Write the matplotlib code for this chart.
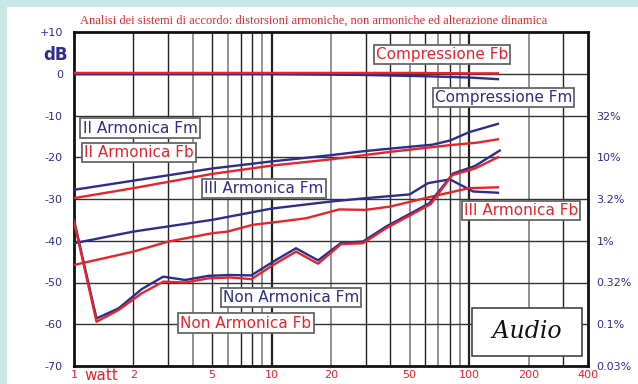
import matplotlib
matplotlib.use("Agg")
import matplotlib.pyplot as plt
from matplotlib.patches import Rectangle

RED = "#e8232b"
BLUE = "#2d2d8c"

# dynamic compression (dB) vs power (W)
comp_fb_x = [1, 10, 50, 100, 140]
comp_fb_y = [0.2, 0.2, 0.2, 0.1, 0.1]
comp_fm_x = [1, 10, 30, 60, 100, 140]
comp_fm_y = [-0.1, -0.1, -0.3, -0.6, -0.9, -1.3]

# second harmonic
h2_fm_x = [1, 2, 5, 10, 20, 30, 50, 65, 80, 100, 140]
h2_fm_y = [-27.8, -25.6, -22.7, -21.0, -19.5, -18.5, -17.5, -17.0, -16.0, -14.0, -12.0]
h2_fb_x = [1, 2, 5, 10, 20, 40, 80, 110, 140]
h2_fb_y = [-29.8, -27.4, -24.0, -22.0, -20.5, -18.7, -17.1, -16.5, -15.7]

# third harmonic
h3_fm_x = [1, 2, 5, 10, 20, 30, 50, 62, 80, 105, 140]
h3_fm_y = [-40.6, -37.8, -35.0, -32.3, -30.6, -29.8, -28.9, -26.2, -25.3, -28.2, -28.5]
h3_fb_x = [1, 2, 3, 5, 6, 8, 12, 15, 22, 30, 40, 65, 100, 140]
h3_fb_y = [-45.8, -42.6, -40.2, -38.2, -37.8, -36.2, -35.2, -34.6, -32.5, -32.6, -31.8, -29.4, -27.4, -27.2]

# non harmonic distortion
nh_fm_x = [1, 1.3, 1.68, 2.2, 2.83, 3.65, 4.8, 6.2, 7.9, 10.2, 13.3, 17.2, 22.5, 29, 38, 49, 63, 83, 107, 143]
nh_fm_y = [-35.0, -58.6, -56.2, -51.6, -48.6, -49.4, -48.4, -48.2, -48.3, -45.0, -41.8, -44.7,
           -40.5, -40.2, -36.6, -33.8, -31.0, -23.9, -22.1, -18.4]
nh_fb_x = [1, 1.3, 1.68, 2.2, 2.83, 3.65, 4.8, 6.2, 7.9, 10.2, 13.3, 17.2, 22.5, 29, 38, 49, 64, 82, 107, 140]
nh_fb_y = [-35.4, -59.4, -56.6, -52.6, -49.8, -50.0, -49.0, -48.8, -49.2, -45.8, -42.6, -45.5,
           -40.8, -40.6, -37.0, -34.2, -31.2, -24.3, -22.7, -20.0]

x_ticks = [1, 2, 5, 10, 20, 50, 100, 200, 400]
x_ticklabels = ["1", "2", "5", "10", "20", "50", "100", "200", "400"]
db_ticks = [-70, -60, -50, -40, -30, -20, -10, 0, 10]
db_ticklabels = ["-70", "-60", "-50", "-40", "-30", "-20", "-10", "0", "+10"]
pct_ticks = [-70, -60, -50, -40, -30, -20, -10]
pct_ticklabels = ["0.03%", "0.1%", "0.32%", "1%", "3.2%", "10%", "32%"]

fig = plt.figure(figsize=(6.38, 3.84), dpi=100)
fig.patch.set_facecolor("#c9e7e6")
fig.patches.append(Rectangle((7 / 638, 0), 1, 1 - 7 / 384, transform=fig.transFigure,
                             facecolor="white", edgecolor="none", zorder=-10))

ax = fig.add_axes([74 / 638, 1 - 366 / 384, 514 / 638, 334 / 384])
ax.set_xscale("log")
ax.set_xlim(1, 400)
ax.set_ylim(-70, 10)

# grid
dark = [2, 3, 5, 7, 8, 10, 30, 40, 60, 80, 100, 300]
light = [4, 6, 9, 20, 50, 70, 90, 200]
for v in dark:
    ax.axvline(v, color="#222222", lw=1.6 if v in (10, 100) else 1.0, zorder=1)
for v in light:
    ax.axvline(v, color="#888888", lw=1.3, zorder=1)
for h in range(-60, 10, 10):
    ax.axhline(h, color="#333333", lw=1.0, zorder=1)

for s in ax.spines.values():
    s.set_linewidth(2)
    s.set_color("#111111")

ax.plot(comp_fm_x, comp_fm_y, color=BLUE, lw=1.7, zorder=3)
ax.plot(comp_fb_x, comp_fb_y, color=RED, lw=1.7, zorder=3)
ax.plot(h2_fm_x, h2_fm_y, color=BLUE, lw=1.7, zorder=3)
ax.plot(h2_fb_x, h2_fb_y, color=RED, lw=1.7, zorder=3)
ax.plot(h3_fm_x, h3_fm_y, color=BLUE, lw=1.7, zorder=3)
ax.plot(h3_fb_x, h3_fb_y, color=RED, lw=1.7, zorder=3)
ax.plot(nh_fm_x, nh_fm_y, color=BLUE, lw=1.7, zorder=3)
ax.plot(nh_fb_x, nh_fb_y, color=RED, lw=1.7, zorder=3)

ax.set_xticks(x_ticks)
ax.set_xticklabels(x_ticklabels)
ax.xaxis.set_minor_locator(matplotlib.ticker.NullLocator())
ax.set_yticks(db_ticks)
ax.set_yticklabels(db_ticklabels)
ax.tick_params(axis="x", length=0, pad=3, labelsize=8, labelcolor=RED)
ax.tick_params(axis="y", length=0, pad=8, labelsize=8, labelcolor=BLUE)

ax2 = ax.twinx()
ax2.set_ylim(-70, 10)
ax2.set_yticks(pct_ticks)
ax2.set_yticklabels(pct_ticklabels)
ax2.tick_params(axis="y", length=0, pad=6, labelsize=8, labelcolor=BLUE)
for s in ax2.spines.values():
    s.set_visible(False)

box = dict(boxstyle="square,pad=0.15", facecolor="white", edgecolor="#666666", lw=1.3)
labels = [
    ("Compressione Fb", 442, 54.5, RED),
    ("Compressione Fm", 503.5, 97.5, BLUE),
    ("II Armonica Fm", 140, 128, BLUE),
    ("II Armonica Fb", 139, 152.5, RED),
    ("III Armonica Fm", 264, 188.5, BLUE),
    ("III Armonica Fb", 521, 210.5, RED),
    ("Non Armonica Fm", 291, 297.5, BLUE),
    ("Non Armonica Fb", 246, 323, RED),
]
for txt, px, py, c in labels:
    ax.text((px - 74) / 514, (366 - py) / 334, txt, transform=ax.transAxes, color=c,
            fontsize=11, ha="center", va="center", bbox=box, zorder=5)

# logo box
ax.text((527 - 74) / 514, (366 - 332) / 334, " Audio ", transform=ax.transAxes,
        fontsize=17, family="DejaVu Serif", style="italic", color="#111111",
        ha="center", va="center", zorder=5,
        bbox=dict(boxstyle="square,pad=0.55", facecolor="white", edgecolor="#444444", lw=1.2))

fig.text(314 / 638, 1 - 21 / 384, "Analisi dei sistemi di accordo: distorsioni armoniche, non armoniche ed alterazione dinamica",
         color=RED, fontsize=9, family="Liberation Serif", ha="center", va="center")
fig.text(55 / 638, 1 - 55 / 384, "dB", color=BLUE, fontsize=12, fontweight="bold",
         ha="center", va="center")
fig.text(101 / 638, 1 - 375 / 384, "watt", color=RED, fontsize=11, ha="center", va="center")

fig.savefig("out.png", dpi=100, facecolor=fig.get_facecolor())
